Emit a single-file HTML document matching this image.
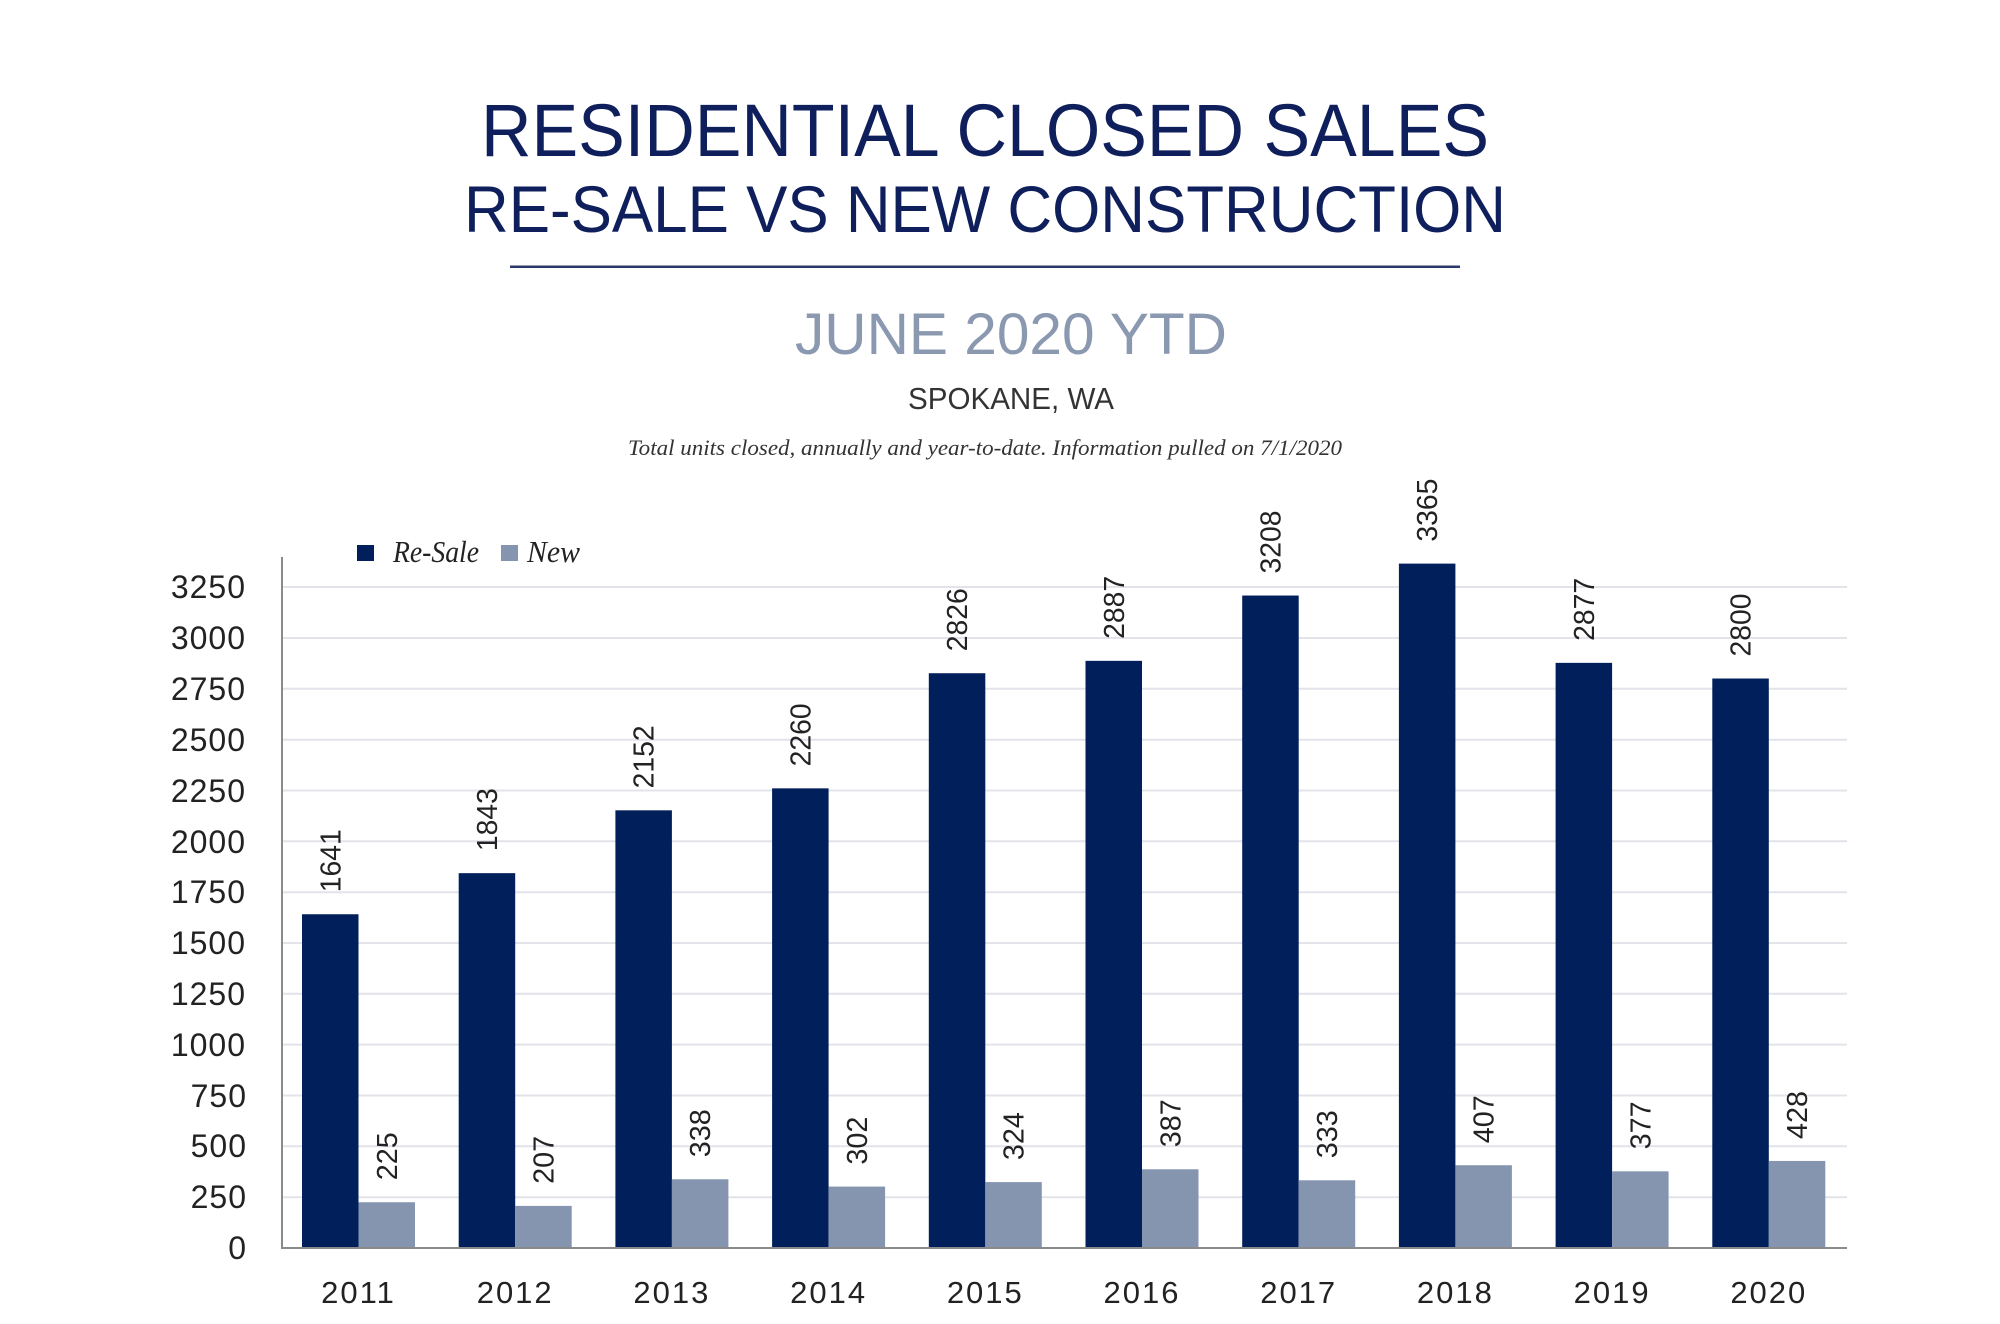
<!DOCTYPE html>
<html><head><meta charset="utf-8"><style>
html,body{margin:0;padding:0;background:#fff;}
svg{display:block;}
</style></head><body>
<svg width="2000" height="1324" viewBox="0 0 2000 1324" xmlns="http://www.w3.org/2000/svg">
<rect width="2000" height="1324" fill="#fff"/>
<g font-family="Liberation Sans, sans-serif" text-anchor="middle">
<text x="985" y="156" font-size="74" fill="#0f1f5c" textLength="1008" lengthAdjust="spacingAndGlyphs">RESIDENTIAL CLOSED SALES</text>
<text x="985" y="232" font-size="66" fill="#0f1f5c" textLength="1042" lengthAdjust="spacingAndGlyphs">RE-SALE VS NEW CONSTRUCTION</text>
<rect x="510" y="265.5" width="950" height="2.5" fill="#2a3a6e"/>
<text x="1011" y="354" font-size="58" fill="#8a98b0" textLength="432" lengthAdjust="spacingAndGlyphs">JUNE 2020 YTD</text>
<text x="1011" y="409" font-size="31" fill="#333" textLength="206" lengthAdjust="spacingAndGlyphs">SPOKANE, WA</text>
<text x="985" y="455" font-size="22" fill="#333" font-family="Liberation Serif, serif" font-style="italic" textLength="714" lengthAdjust="spacingAndGlyphs">Total units closed, annually and year-to-date.  Information pulled on 7/1/2020</text>
</g>
<rect x="357" y="545" width="17" height="16" fill="#001f5b"/>
<text x="393" y="562" font-family="Liberation Serif, serif" font-style="italic" font-size="31" fill="#222" textLength="86" lengthAdjust="spacingAndGlyphs">Re-Sale</text>
<rect x="501" y="545" width="17" height="16" fill="#8595b0"/>
<text x="527" y="562" font-family="Liberation Serif, serif" font-style="italic" font-size="31" fill="#222" textLength="53" lengthAdjust="spacingAndGlyphs">New</text>
<g stroke="#e2e4ea" stroke-width="2">
<line x1="282" x2="1847" y1="1197.2" y2="1197.2"/>
<line x1="282" x2="1847" y1="1146.3" y2="1146.3"/>
<line x1="282" x2="1847" y1="1095.5" y2="1095.5"/>
<line x1="282" x2="1847" y1="1044.6" y2="1044.6"/>
<line x1="282" x2="1847" y1="993.8" y2="993.8"/>
<line x1="282" x2="1847" y1="943" y2="943"/>
<line x1="282" x2="1847" y1="892.2" y2="892.2"/>
<line x1="282" x2="1847" y1="841.3" y2="841.3"/>
<line x1="282" x2="1847" y1="790.5" y2="790.5"/>
<line x1="282" x2="1847" y1="739.7" y2="739.7"/>
<line x1="282" x2="1847" y1="688.8" y2="688.8"/>
<line x1="282" x2="1847" y1="638" y2="638"/>
<line x1="282" x2="1847" y1="587" y2="587"/>
</g>
<g font-family="Liberation Sans, sans-serif" font-size="32" fill="#222" text-anchor="end" letter-spacing="1">
<text x="247" y="1259">0</text>
<text x="247" y="1208">250</text>
<text x="247" y="1157">500</text>
<text x="247" y="1107">750</text>
<text x="246" y="1056">1000</text>
<text x="246" y="1005">1250</text>
<text x="246" y="954">1500</text>
<text x="246" y="903">1750</text>
<text x="246" y="853">2000</text>
<text x="246" y="802">2250</text>
<text x="246" y="751">2500</text>
<text x="246" y="700">2750</text>
<text x="246" y="649">3000</text>
<text x="246" y="598">3250</text>
</g>
<g fill="#001f5b">
<rect x="302" y="914.25" width="56.5" height="333.75"/>
<rect x="458.7" y="873.16" width="56.5" height="374.84"/>
<rect x="615.4" y="810.32" width="56.5" height="437.68"/>
<rect x="772.1" y="788.35" width="56.5" height="459.65"/>
<rect x="928.8" y="673.23" width="56.5" height="574.77"/>
<rect x="1085.5" y="660.83" width="56.5" height="587.17"/>
<rect x="1242.2" y="595.54" width="56.5" height="652.46"/>
<rect x="1398.9" y="563.61" width="56.5" height="684.39"/>
<rect x="1555.6" y="662.86" width="56.5" height="585.14"/>
<rect x="1712.3" y="678.52" width="56.5" height="569.48"/>
</g>
<g fill="#8595b0">
<rect x="358.5" y="1202.24" width="56.5" height="45.76"/>
<rect x="515.2" y="1205.9" width="56.5" height="42.1"/>
<rect x="671.9" y="1179.26" width="56.5" height="68.74"/>
<rect x="828.6" y="1186.58" width="56.5" height="61.42"/>
<rect x="985.3" y="1182.1" width="56.5" height="65.9"/>
<rect x="1142" y="1169.29" width="56.5" height="78.71"/>
<rect x="1298.7" y="1180.27" width="56.5" height="67.73"/>
<rect x="1455.4" y="1165.22" width="56.5" height="82.78"/>
<rect x="1612.1" y="1171.32" width="56.5" height="76.68"/>
<rect x="1768.8" y="1160.95" width="56.5" height="87.05"/>
</g>
<g font-family="Liberation Sans, sans-serif" font-size="29" fill="#222">
<text transform="translate(340.25,892.25) rotate(-90)" textLength="63" lengthAdjust="spacingAndGlyphs">1641</text>
<text transform="translate(496.95,851.16) rotate(-90)" textLength="63" lengthAdjust="spacingAndGlyphs">1843</text>
<text transform="translate(653.65,788.32) rotate(-90)" textLength="63" lengthAdjust="spacingAndGlyphs">2152</text>
<text transform="translate(810.35,766.35) rotate(-90)" textLength="63" lengthAdjust="spacingAndGlyphs">2260</text>
<text transform="translate(967.05,651.23) rotate(-90)" textLength="63" lengthAdjust="spacingAndGlyphs">2826</text>
<text transform="translate(1123.75,638.83) rotate(-90)" textLength="63" lengthAdjust="spacingAndGlyphs">2887</text>
<text transform="translate(1280.45,573.54) rotate(-90)" textLength="63" lengthAdjust="spacingAndGlyphs">3208</text>
<text transform="translate(1437.15,541.61) rotate(-90)" textLength="63" lengthAdjust="spacingAndGlyphs">3365</text>
<text transform="translate(1593.85,640.86) rotate(-90)" textLength="63" lengthAdjust="spacingAndGlyphs">2877</text>
<text transform="translate(1750.55,656.52) rotate(-90)" textLength="63" lengthAdjust="spacingAndGlyphs">2800</text>
<text transform="translate(396.75,1180.24) rotate(-90)" textLength="48" lengthAdjust="spacingAndGlyphs">225</text>
<text transform="translate(553.45,1183.9) rotate(-90)" textLength="48" lengthAdjust="spacingAndGlyphs">207</text>
<text transform="translate(710.15,1157.26) rotate(-90)" textLength="48" lengthAdjust="spacingAndGlyphs">338</text>
<text transform="translate(866.85,1164.58) rotate(-90)" textLength="48" lengthAdjust="spacingAndGlyphs">302</text>
<text transform="translate(1023.55,1160.1) rotate(-90)" textLength="48" lengthAdjust="spacingAndGlyphs">324</text>
<text transform="translate(1180.25,1147.29) rotate(-90)" textLength="48" lengthAdjust="spacingAndGlyphs">387</text>
<text transform="translate(1336.95,1158.27) rotate(-90)" textLength="48" lengthAdjust="spacingAndGlyphs">333</text>
<text transform="translate(1493.65,1143.22) rotate(-90)" textLength="48" lengthAdjust="spacingAndGlyphs">407</text>
<text transform="translate(1650.35,1149.32) rotate(-90)" textLength="48" lengthAdjust="spacingAndGlyphs">377</text>
<text transform="translate(1807.05,1138.95) rotate(-90)" textLength="48" lengthAdjust="spacingAndGlyphs">428</text>
</g>
<g font-family="Liberation Sans, sans-serif" font-size="31" fill="#222" text-anchor="middle" letter-spacing="2">
<text x="358.5" y="1303">2011</text>
<text x="515.2" y="1303">2012</text>
<text x="671.9" y="1303">2013</text>
<text x="828.6" y="1303">2014</text>
<text x="985.3" y="1303">2015</text>
<text x="1142" y="1303">2016</text>
<text x="1298.7" y="1303">2017</text>
<text x="1455.4" y="1303">2018</text>
<text x="1612.1" y="1303">2019</text>
<text x="1768.8" y="1303">2020</text>
</g>
<line x1="282" y1="557" x2="282" y2="1249" stroke="#8a8a8a" stroke-width="2"/>
<line x1="281" y1="1248" x2="1847" y2="1248" stroke="#8a8a8a" stroke-width="2"/>
</svg>
</body></html>
